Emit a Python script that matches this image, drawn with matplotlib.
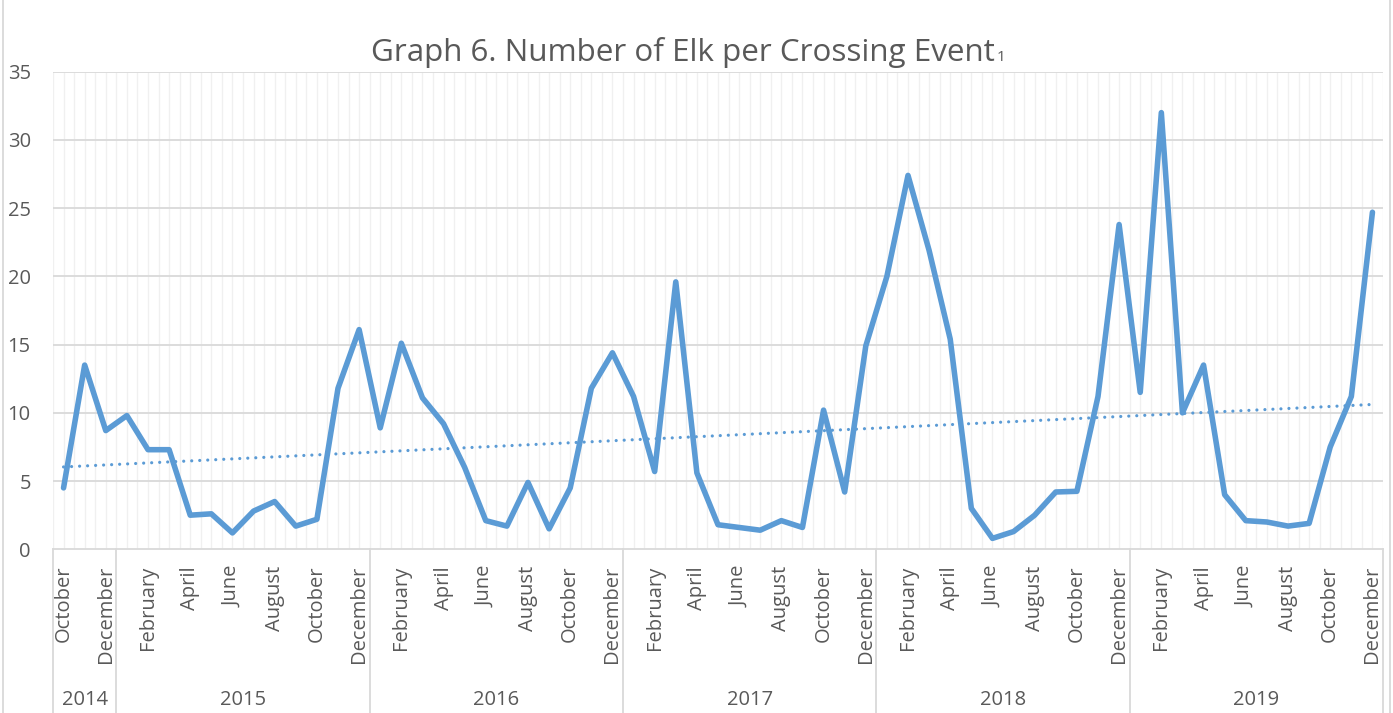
import numpy as np
import matplotlib.pyplot as plt
from matplotlib.transforms import blended_transform_factory
from matplotlib.lines import Line2D

plt.rcParams['font.family'] = ['Open Sans', 'DejaVu Sans']

years = ['2014', '2015', '2016', '2017', '2018', '2019']
months_per_year = [3, 12, 12, 12, 12, 12]
month_names = ['January', 'February', 'March', 'April', 'May', 'June', 'July',
               'August', 'September', 'October', 'November', 'December']

# Oct 2014 .. Dec 2019
elk = [4.5, 13.5, 8.7,
       9.8, 7.3, 7.3, 2.5, 2.6, 1.2, 2.8, 3.5, 1.7, 2.2, 11.8, 16.1,
       8.9, 15.1, 11.1, 9.2, 6.0, 2.1, 1.7, 4.9, 1.5, 4.5, 11.8, 14.4,
       11.2, 5.7, 19.6, 5.6, 1.8, 1.6, 1.4, 2.1, 1.6, 10.2, 4.2, 14.9,
       20.0, 27.4, 21.9, 15.4, 3.0, 0.8, 1.3, 2.5, 4.2, 4.25, 11.2, 23.8,
       11.5, 32.0, 10.0, 13.5, 4.0, 2.1, 2.0, 1.7, 1.9, 7.5, 11.2, 24.7]

months = month_names[9:] + month_names * 5
x = np.arange(len(elk))

blue = '#5B9BD5'
grey_txt = '#595959'
grid_c = '#D9D9D9'

fig = plt.figure(figsize=(13.93, 7.13), dpi=100)
ax = fig.add_axes([53 / 1393, 163.7 / 713, 1330 / 1393, 477.6 / 713])

# light vertical grid every half category
for gx in np.arange(-0.5, len(elk), 0.5):
    ax.axvline(gx, color='#F0F0F0', lw=1, zorder=0)
for gy in range(5, 36, 5):
    ax.axhline(gy, color=grid_c, lw=1.3, zorder=1)

ax.plot(x, elk, color=blue, lw=4.0, solid_joinstyle='round',
        solid_capstyle='round', zorder=3)

# linear trendline
k, b = np.polyfit(x, elk, 1)
ax.plot(x, k * x + b, color=blue, lw=2.3, linestyle=(0, (0.01, 2.5)),
        dash_capstyle='round', zorder=2)

ax.set_xlim(-0.5, len(elk) - 0.5)
ax.set_ylim(0, 35)
ax.set_yticks(range(0, 36, 5))
ax.set_xticks(x[::2])
ax.set_xticklabels(months[::2], rotation=90)
ax.tick_params(axis='x', length=0, pad=12, labelsize=14.5, labelcolor=grey_txt)
ax.tick_params(axis='y', length=0, pad=16, labelsize=14.5, labelcolor=grey_txt)
for s in ['top', 'right', 'left']:
    ax.spines[s].set_visible(False)
ax.spines['bottom'].set_color(grid_c)
ax.spines['bottom'].set_linewidth(1.3)

# year groups
tr = blended_transform_factory(ax.transData, ax.transAxes)
edges = np.concatenate([[0], np.cumsum(months_per_year)]) - 0.5
for e in edges:
    ax.plot([e, e], [0, -0.36], color=grid_c, lw=1.3, transform=tr, clip_on=False)
for i, yr in enumerate(years):
    ax.text((edges[i] + edges[i + 1]) / 2, -0.315, yr, transform=tr, ha='center',
            va='center', fontsize=14.5, color=grey_txt)

# chart border
fig.add_artist(Line2D([3 / 1393, 3 / 1393], [0, 1], color=grid_c, lw=1.3))
fig.add_artist(Line2D([1390 / 1393, 1390 / 1393], [0, 1], color=grid_c, lw=1.3))

# title with small trailing "1" on the baseline
base_y = 1 - 61 / 713
t = fig.text(0.490, base_y, 'Graph 6. Number of Elk per Crossing Event',
             ha='center', va='baseline', fontsize=22.6, color=grey_txt)
fig.canvas.draw()
bb = t.get_window_extent()
fig.text((bb.x1 + 2) / fig.bbox.width, base_y, '1',
         ha='left', va='baseline', fontsize=11, color=grey_txt)

fig.savefig('out.png', dpi=100)
